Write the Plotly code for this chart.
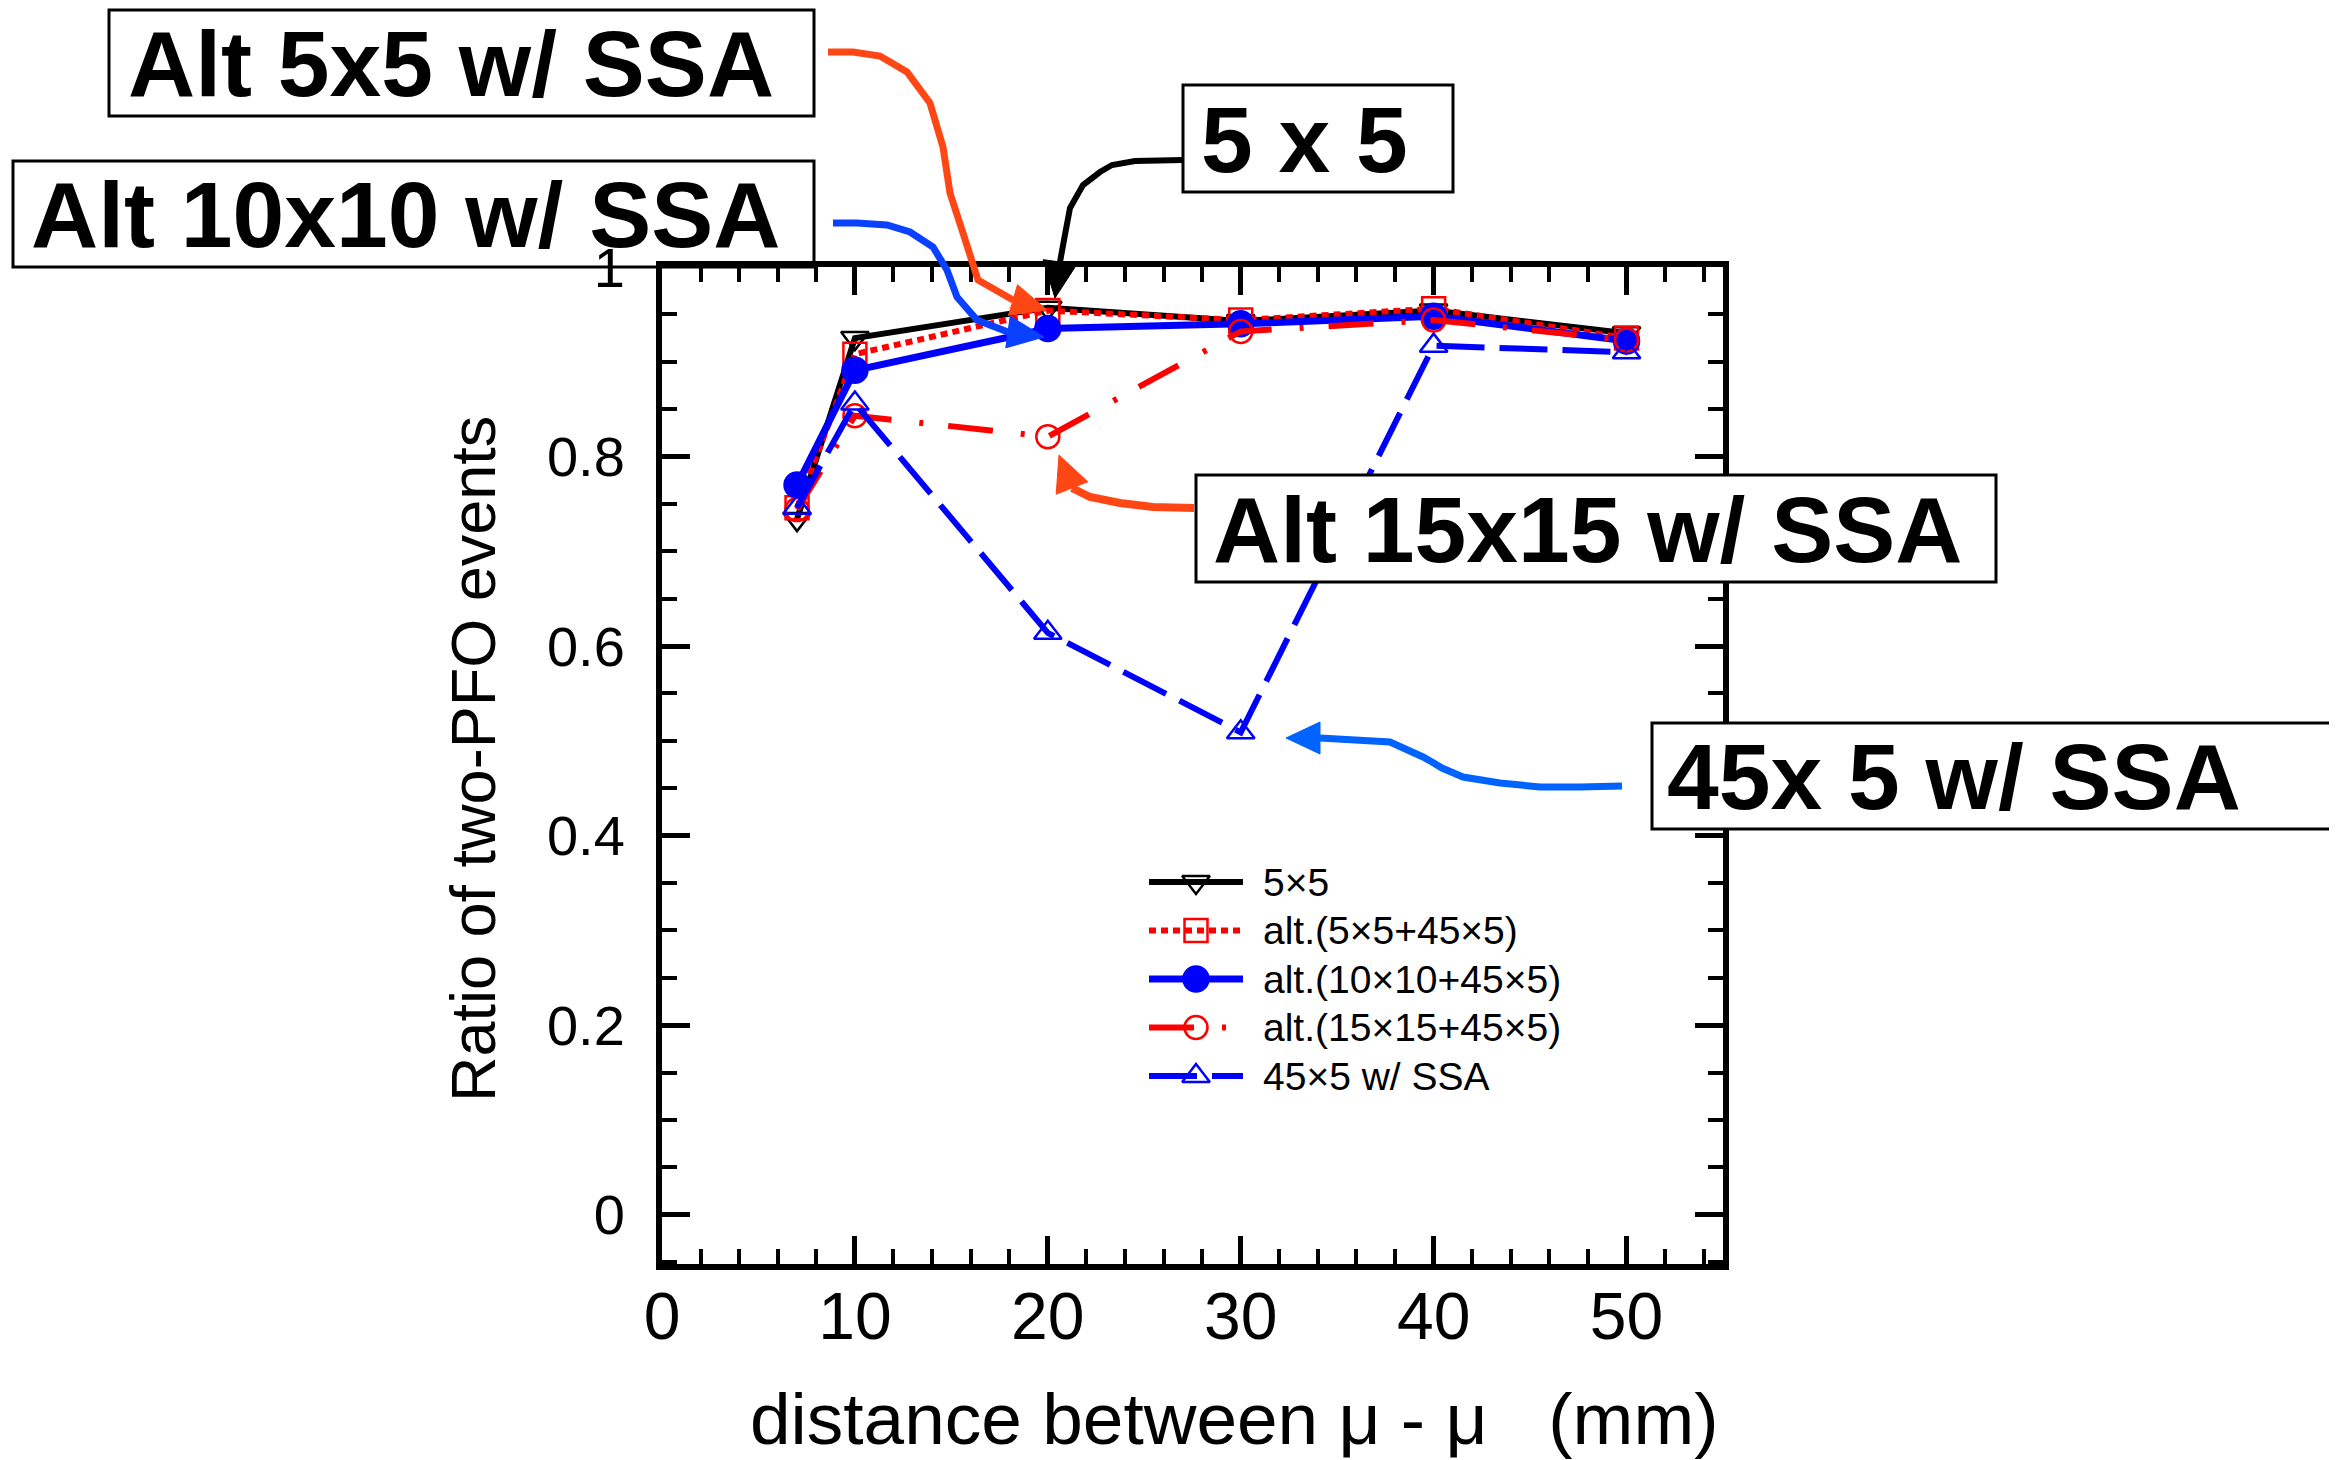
import math
import plotly.graph_objects as go

# ---------------- data ----------------
distance_mm = [7, 10, 20, 30, 40, 50]
ratio_5x5 = [0.734, 0.925, 0.957, 0.943, 0.954, 0.930]
ratio_alt_5x5 = [0.746, 0.908, 0.954, 0.944, 0.956, 0.925]
ratio_alt_10x10 = [0.770, 0.891, 0.935, 0.940, 0.948, 0.922]
ratio_alt_15x15 = [0.744, 0.843, 0.821, 0.932, 0.944, 0.923]
ratio_45x5_ssa = [0.746, 0.856, 0.614, 0.509, 0.917, 0.910]

series_names = ["5×5", "alt.(5×5+45×5)", "alt.(10×10+45×5)", "alt.(15×15+45×5)", "45×5 w/ SSA"]
x_ticks = [0, 10, 20, 30, 40, 50]
y_ticks = [0, 0.2, 0.4, 0.6, 0.8, 1.0]
y_tick_text = ["0", "0.2", "0.4", "0.6", "0.8", "1"]

box_labels = ["Alt 5x5 w/ SSA", "5 x 5", "Alt 10x10 w/ SSA", "Alt 15x15 w/ SSA", "45x 5 w/ SSA"]

# ---------------- geometry (target page pixels) ----------------
W, H = 2337, 1460
OFF = 8                      # page body margin
L, R, T, B = 662, 1723, 267, 1264


def px(x):
    return (x - L) / (R - L)


def py(y):
    return (B - y) / (B - T)


FONT = "Liberation Sans, Arial, Helvetica, sans-serif"
RED = "#FF0000"
BLUE = "#0000FF"

fig = go.Figure()

styles = [
    dict(color="black", width=6, dash="solid", symbol="triangle-down-open", size=24),
    dict(color=RED, width=6, dash="7px,5px", symbol="square-open", size=23),
    dict(color=BLUE, width=7, dash="solid", symbol="circle", size=25),
    dict(color=RED, width=6, dash="45px,28px,4px,25px", symbol="circle-open", size=23),
    dict(color=BLUE, width=6, dash="48px,15px", symbol="triangle-up-open", size=24),
]
series = [ratio_5x5, ratio_alt_5x5, ratio_alt_10x10, ratio_alt_15x15, ratio_45x5_ssa]

for name, ys, st in zip(series_names, series, styles):
    fig.add_trace(go.Scatter(
        x=distance_mm, y=ys, name=name, mode="lines+markers", showlegend=False,
        line=dict(color=st["color"], width=st["width"], dash=st["dash"]),
        marker=dict(symbol=st["symbol"], size=st["size"], color=st["color"],
                    line=dict(color=st["color"], width=2.5)),
    ))

# ---------------- legend (drawn in its own small axes) ----------------
leg_top, leg_step = 882, 48.5
for i, (name, st) in enumerate(zip(series_names, styles)):
    fig.add_trace(go.Scatter(x=[0, 1], y=[i, i], mode="lines", xaxis="x2", yaxis="y2",
                             showlegend=False, hoverinfo="skip",
                             line=dict(color=st["color"], width=st["width"], dash=st["dash"])))
    fig.add_trace(go.Scatter(x=[0.5], y=[i], mode="markers", xaxis="x2", yaxis="y2",
                             showlegend=False, hoverinfo="skip",
                             marker=dict(symbol=st["symbol"], size=st["size"], color=st["color"],
                                         line=dict(color=st["color"], width=2.5))))

annotations = []
for i, name in enumerate(series_names):
    annotations.append(dict(xref="paper", yref="paper", x=px(1261), y=py(leg_top + leg_step * i),
                            xanchor="left", yanchor="middle", showarrow=False, text=name,
                            font=dict(family=FONT, size=39, color="black")))

# ---------------- arrows (curved shafts + heads) ----------------
arrows = [
    dict(color="#FF4716", width=7,
         pts=[(828, 52), (853, 52), (880, 56), (907, 72), (930, 103), (943, 147), (950, 193),
              (963, 233), (978, 280), (1013, 300)], tip=(1047, 310), hw=16),
    dict(color="#0A40FF", width=7,
         pts=[(833, 223), (857, 223), (887, 225), (910, 232), (933, 247), (947, 270), (957, 297),
              (977, 320), (1008, 332)], tip=(1044, 337), hw=16),
    dict(color="black", width=6,
         pts=[(1183, 160), (1135, 161), (1112, 165), (1100, 172), (1083, 185), (1070, 208),
              (1064, 240), (1060, 262)], tip=(1055, 298), hw=17),
    dict(color="#FF4716", width=8,
         pts=[(1194, 508), (1153, 507), (1120, 503), (1090, 497), (1072, 488)], tip=(1059, 455), hw=17),
    dict(color="#0062FF", width=7,
         pts=[(1622, 786), (1580, 787), (1540, 787), (1500, 783), (1463, 777), (1442, 768),
              (1432, 762), (1423, 757), (1390, 742), (1320, 738)], tip=(1286, 738), hw=16),
]

shapes = []
for a in arrows:
    path = "M " + " L ".join(f"{px(x):.5f},{py(y):.5f}" for x, y in a["pts"])
    shapes.append(dict(type="path", xref="paper", yref="paper", path=path, layer="above",
                       line=dict(color=a["color"], width=a["width"])))
    bx, by = a["pts"][-1]
    tx, ty = a["tip"]
    dx, dy = tx - bx, ty - by
    d = math.hypot(dx, dy)
    nx, ny = -dy / d, dx / d
    hw = a["hw"]
    p1 = (bx + nx * hw, by + ny * hw)
    p2 = (bx - nx * hw, by - ny * hw)
    head = (f"M {px(tx):.5f},{py(ty):.5f} L {px(p1[0]):.5f},{py(p1[1]):.5f} "
            f"L {px(p2[0]):.5f},{py(p2[1]):.5f} Z")
    shapes.append(dict(type="path", xref="paper", yref="paper", path=head, layer="above",
                       fillcolor=a["color"], line=dict(color=a["color"], width=1)))

# ---------------- label boxes ----------------
boxes = [
    dict(x0=109, x1=814, y0=10, y1=116, tx=126, fill="white"),
    dict(x0=1183, x1=1453, y0=85, y1=192, tx=1199, fill="white"),
    dict(x0=13, x1=814, y0=161, y1=267, tx=29, fill="rgba(0,0,0,0)"),
    dict(x0=1196, x1=1996, y0=475, y1=582, tx=1211, fill="white"),
    dict(x0=1652, x1=2334, y0=723, y1=829, tx=1665, fill="white"),
]
for lab, b in zip(box_labels, boxes):
    shapes.append(dict(type="rect", xref="paper", yref="paper", layer="above",
                       x0=px(b["x0"]), x1=px(b["x1"]), y0=py(b["y1"]), y1=py(b["y0"]),
                       fillcolor=b["fill"], line=dict(color="black", width=3)))
    annotations.append(dict(xref="paper", yref="paper", x=px(b["tx"]), y=py((b["y0"] + b["y1"]) / 2 + 1),
                            xanchor="left", yanchor="middle", showarrow=False, text=lab,
                            font=dict(family=FONT, size=93, color="black", weight="bold")))

# axis titles
annotations.append(dict(xref="paper", yref="paper", x=px(1234), y=py(1418), xanchor="center", yanchor="middle",
                        showarrow=False,
                        text="distance between μ - μ\u00a0\u00a0\u00a0(mm)",
                        font=dict(family=FONT, size=73, color="black")))
annotations.append(dict(xref="paper", yref="paper", x=px(473), y=py(759), xanchor="center", yanchor="middle",
                        showarrow=False, textangle=-90, text="Ratio of two-PFO events",
                        font=dict(family=FONT, size=63, color="black")))

fig.update_layout(
    width=W - OFF, height=H - OFF,
    margin=dict(l=L - OFF, r=(W - OFF) - (R - OFF), t=T - OFF, b=(H - OFF) - (B - OFF), pad=0),
    paper_bgcolor="white", plot_bgcolor="white",
    showlegend=False,
    shapes=shapes, annotations=annotations,
    xaxis=dict(range=[0, 55], tickvals=x_ticks, ticktext=[str(v) for v in x_ticks],
               showline=True, linecolor="black", linewidth=6, mirror="ticks",
               ticks="inside", ticklen=28, tickwidth=5, tickcolor="black",
               minor=dict(ticks="inside", dtick=2, ticklen=15, tickwidth=4, tickcolor="black"),
               showgrid=False, zeroline=False,
               tickfont=dict(family=FONT, size=66, color="black"), ticklabelstandoff=-10),
    yaxis=dict(range=[-0.052, 1.0], tickvals=y_ticks, ticktext=y_tick_text,
               showline=True, linecolor="black", linewidth=6, mirror="ticks",
               ticks="inside", ticklen=28, tickwidth=5, tickcolor="black",
               minor=dict(ticks="inside", dtick=0.05, ticklen=15, tickwidth=4, tickcolor="black"),
               showgrid=False, zeroline=False,
               tickfont=dict(family=FONT, size=56, color="black"), ticklabelstandoff=20),
    xaxis2=dict(domain=[px(1149), px(1243)], range=[0, 1], anchor="y2", visible=False, fixedrange=True),
    yaxis2=dict(domain=[py(leg_top + leg_step * 4.5), py(leg_top - leg_step * 0.5)],
                range=[4.5, -0.5], anchor="x2", visible=False, fixedrange=True),
)

fig.write_html("out.html")
